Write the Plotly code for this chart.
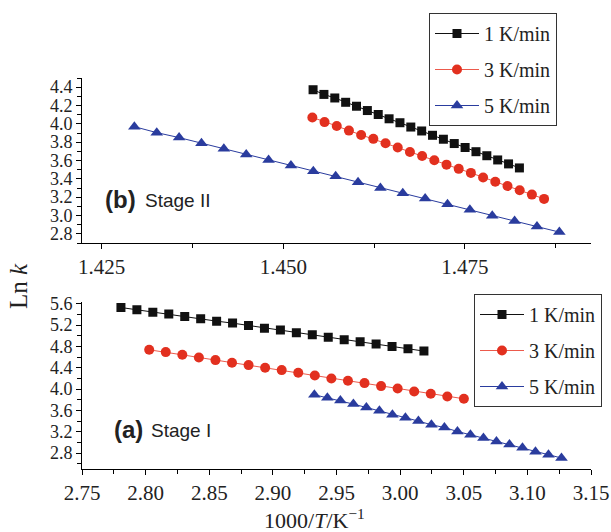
import plotly.graph_objects as go

# ---------------- data ----------------
series_names = ["1 K/min", "3 K/min", "5 K/min"]

# Stage II (panel b)
b_x_1 = [1.4541 + i * 0.001495 for i in range(20)]
b_y_1 = [4.372, 4.321, 4.282, 4.235, 4.192, 4.145, 4.102, 4.055, 4.012, 3.965,
         3.922, 3.875, 3.832, 3.785, 3.742, 3.696, 3.652, 3.606, 3.563, 3.519]
b_x_3 = [1.4540 + i * 0.001679 for i in range(20)]
b_y_3 = [4.070, 4.019, 3.976, 3.926, 3.879, 3.836, 3.789, 3.742, 3.692, 3.649,
         3.602, 3.555, 3.509, 3.465, 3.415, 3.368, 3.321, 3.275, 3.228, 3.181]
b_x_5 = [1.4295 + i * 0.003079 for i in range(20)]
b_y_5 = [3.969, 3.904, 3.850, 3.789, 3.728, 3.666, 3.606, 3.545, 3.483, 3.429,
         3.364, 3.300, 3.243, 3.185, 3.124, 3.062, 2.998, 2.940, 2.879, 2.819]

# Stage I (panel a)
a_x_1 = [2.7806 + i * 0.012532 for i in range(20)]
a_y_1 = [5.531, 5.487, 5.444, 5.407, 5.362, 5.319, 5.275, 5.238, 5.193, 5.144,
         5.107, 5.056, 5.018, 4.975, 4.925, 4.887, 4.844, 4.799, 4.756, 4.713]
a_x_3 = [2.8028 + i * 0.013016 for i in range(20)]
a_y_3 = [4.737, 4.694, 4.643, 4.593, 4.544, 4.493, 4.450, 4.399, 4.356, 4.305,
         4.255, 4.198, 4.155, 4.112, 4.056, 4.011, 3.955, 3.911, 3.861, 3.818]
a_x_5 = [2.9326 + i * 0.010221 for i in range(20)]
a_y_5 = [3.893, 3.836, 3.786, 3.718, 3.654, 3.593, 3.518, 3.461, 3.399, 3.330,
         3.279, 3.204, 3.142, 3.080, 3.016, 2.960, 2.898, 2.823, 2.767, 2.706]

colors = ["#111111", "#e2301f", "#2a3c9e"]
line_colors = ["#111111", "#ec5a4c", "#2a3c9e"]
symbols = ["square", "circle", "triangle-up"]
msizes = [9, 10, 11]

W, H = 611, 532
L, R = 82, 20
PW = W - L - R


def px_x(px):
    return (px - L) / PW


def px_y(py):
    return 1 - py / H


fig = go.Figure()

panel_b = [(b_x_1, b_y_1), (b_x_3, b_y_3), (b_x_5, b_y_5)]
panel_a = [(a_x_1, a_y_1), (a_x_3, a_y_3), (a_x_5, a_y_5)]

for i, (xs, ys) in enumerate(panel_b):
    fig.add_trace(go.Scatter(
        x=xs, y=ys, mode="lines+markers", name=series_names[i],
        xaxis="x", yaxis="y", legend="legend", legendgroup="b%d" % i,
        line=dict(color=line_colors[i], width=1),
        marker=dict(symbol=symbols[i], size=msizes[i], color=colors[i]),
    ))
for i, (xs, ys) in enumerate(panel_a):
    fig.add_trace(go.Scatter(
        x=xs, y=ys, mode="lines+markers", name=series_names[i],
        xaxis="x2", yaxis="y2", legend="legend2", legendgroup="a%d" % i,
        line=dict(color=line_colors[i], width=1),
        marker=dict(symbol=symbols[i], size=msizes[i], color=colors[i]),
    ))

serif = "Liberation Serif"
tick_col = "#222222"

axis_common = dict(showline=True, linecolor="black", linewidth=1, showgrid=False,
                   zeroline=False, ticks="outside", ticklen=5, tickwidth=1,
                   tickcolor="black", mirror=False, automargin=False)

legend_common = dict(xanchor="left", yanchor="top", bordercolor="#333333",
                     borderwidth=1, bgcolor="white",
                     font=dict(family=serif, size=20, color="#222222"),
                     tracegroupgap=7, itemwidth=44)

fig.update_layout(
    width=W, height=H,
    margin=dict(l=L, r=R, t=0, b=0, autoexpand=False),
    plot_bgcolor="white", paper_bgcolor="white",
    xaxis=dict(domain=[0, 1], anchor="y", range=[1.42229, 1.49236],
               tick0=1.425, dtick=0.025, tickformat=".3f",
               tickfont=dict(family=serif, size=21, color=tick_col),
               minor=dict(tick0=1.425, dtick=0.0125, ticks="outside", ticklen=4,
                          tickcolor="black"),
               **axis_common),
    yaxis=dict(domain=[px_y(243), px_y(78)], anchor="x", range=[2.7, 4.5],
               tick0=2.8, dtick=0.2, tickformat=".1f",
               tickfont=dict(family=serif, size=18, color=tick_col),
               minor=dict(tick0=2.7, dtick=0.1, ticks="outside", ticklen=4,
                          tickcolor="black"),
               **axis_common),
    xaxis2=dict(domain=[0, 1], anchor="y2", range=[2.75, 3.15],
                tick0=2.75, dtick=0.05, tickformat=".2f",
                tickfont=dict(family=serif, size=21, color=tick_col),
                minor=dict(tick0=2.75, dtick=0.025, ticks="outside", ticklen=4,
                           tickcolor="black"),
                **axis_common),
    yaxis2=dict(domain=[px_y(469), px_y(301.7)], anchor="x2", range=[2.5, 5.64],
                tick0=2.8, dtick=0.4, tickformat=".1f",
                tickfont=dict(family=serif, size=18, color=tick_col),
                minor=dict(tick0=2.6, dtick=0.2, ticks="outside", ticklen=4,
                           tickcolor="black"),
                **axis_common),
    legend=dict(x=px_x(429), y=px_y(13), **legend_common),
    legend2=dict(x=px_x(474), y=px_y(294), **legend_common),
    showlegend=True,
)

sans = "Liberation Sans"
annotations = [
    dict(text="<b>(b)</b>", x=px_x(103), y=px_y(199), font=dict(family=sans, size=24, color="#222")),
    dict(text="Stage II", x=px_x(143), y=px_y(200), font=dict(family=sans, size=19, color="#222")),
    dict(text="<b>(a)</b>", x=px_x(112), y=px_y(429), font=dict(family=sans, size=24, color="#222")),
    dict(text="Stage I", x=px_x(149), y=px_y(430), font=dict(family=sans, size=19, color="#222")),
]
for a in annotations:
    fig.add_annotation(xref="paper", yref="paper", xanchor="left", yanchor="middle",
                       showarrow=False, **a)

fig.add_annotation(text="1000/<i>T</i>/K<sup>−1</sup>", xref="paper", yref="paper",
                   x=px_x(314), y=px_y(519), xanchor="center", yanchor="middle",
                   showarrow=False, font=dict(family=serif, size=22, color="#222"))
fig.add_annotation(text="Ln <i>k</i>", xref="paper", yref="paper",
                   x=px_x(18), y=px_y(286), xanchor="center", yanchor="middle",
                   textangle=-90, showarrow=False,
                   font=dict(family=serif, size=25, color="#222"))

fig.write_html("out.html")
